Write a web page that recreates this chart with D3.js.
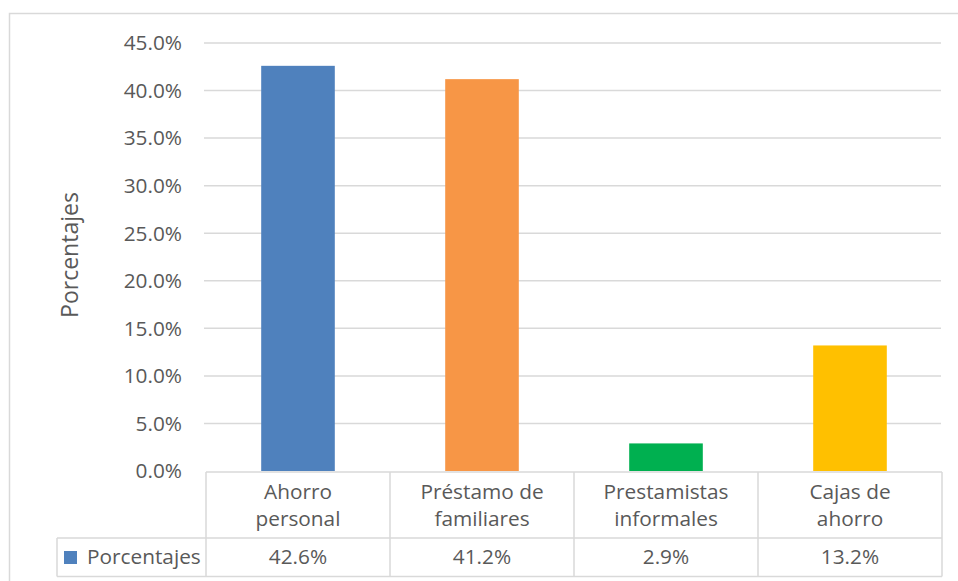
<!DOCTYPE html>
<meta charset="utf-8">
<script src="https://cdn.jsdelivr.net/npm/d3@7"></script>
<style>
body{margin:0; background:#fff;}
text{font-family:"Open Sans", sans-serif; fill:#595959;}
</style>
<div id="vis"></div>
<script>

// Data
var categories = [["Ahorro", "personal"], ["Préstamo de", "familiares"], ["Prestamistas", "informales"], ["Cajas de", "ahorro"]];
var values = [0.426, 0.412, 0.029, 0.132];
var barColors = ["#4f81bd", "#f79646", "#00b050", "#ffc000"];
var yTicks = [0, 0.05, 0.10, 0.15, 0.20, 0.25, 0.30, 0.35, 0.40, 0.45];
var seriesName = "Porcentajes";

var w = 958, h = 581;
var plotLeft = 206, plotRight = 942, plotTop = 43, zero = 471;
var rowMid = 538, tableBottom = 576.5, legendLeft = 57;
var grid = "#d9d9d9";
var labelSize = "20.8px";

var svg = d3.select("#vis").append("svg")
    .attr("width", w)
    .attr("height", h);

// outer chart border (cropped on right/bottom)
svg.append("rect")
    .attr("x", 9.5).attr("y", 13.5)
    .attr("width", 960).attr("height", 580)
    .attr("fill", "none").attr("stroke", grid).attr("stroke-width", 1.5);

var x = d3.scaleBand()
    .domain(d3.range(categories.length))
    .range([plotLeft, plotRight])
    .padding(0);

var y = d3.scaleLinear()
    .domain([0, 0.45])
    .range([zero, plotTop]);

// gridlines
svg.append("g").selectAll("line")
    .data(yTicks.slice(1))
  .enter().append("line")
    .attr("x1", plotLeft - 2).attr("x2", plotRight - 1)
    .attr("y1", function(d) { return y(d); })
    .attr("y2", function(d) { return y(d); })
    .attr("stroke", grid).attr("stroke-width", 1.5);

// y tick labels
svg.append("g").selectAll("text")
    .data(yTicks)
  .enter().append("text")
    .attr("x", 182)
    .attr("y", function(d) { return y(d); })
    .attr("dy", "0.35em")
    .attr("text-anchor", "end")
    .style("font-size", labelSize)
    .text(function(d) { return d3.format(".1%")(d); });

// axis title
svg.append("text")
    .attr("transform", "translate(70," + 255 + ") rotate(-90)")
    .attr("text-anchor", "middle")
    .attr("dy", "0.35em")
    .style("font-size", "23px")
    .text(seriesName);

// bars
var barW = x.bandwidth() * 0.4;
svg.append("g").selectAll("rect")
    .data(values)
  .enter().append("rect")
    .attr("x", function(d, i) { return x(i) + (x.bandwidth() - barW) / 2; })
    .attr("y", function(d) { return y(d); })
    .attr("width", barW)
    .attr("height", function(d) { return zero - y(d); })
    .attr("fill", function(d, i) { return barColors[i]; });

// data table
var tbl = svg.append("g")
    .attr("stroke", grid).attr("stroke-width", 1.5);

tbl.append("line").attr("x1", plotLeft).attr("x2", plotRight).attr("y1", zero + 1).attr("y2", zero + 1);
tbl.append("line").attr("x1", legendLeft).attr("x2", plotRight).attr("y1", rowMid).attr("y2", rowMid);
tbl.append("line").attr("x1", legendLeft).attr("x2", plotRight).attr("y1", tableBottom).attr("y2", tableBottom);
tbl.append("line").attr("x1", legendLeft).attr("x2", legendLeft).attr("y1", rowMid).attr("y2", tableBottom);
tbl.selectAll(".vline")
    .data(d3.range(categories.length + 1))
  .enter().append("line")
    .attr("x1", function(i) { return plotLeft + i * x.step(); })
    .attr("x2", function(i) { return plotLeft + i * x.step(); })
    .attr("y1", zero + 1).attr("y2", tableBottom);

// category labels
categories.forEach(function(c, i) {
  svg.append("g").selectAll("text")
      .data(c)
    .enter().append("text")
      .attr("x", x(i) + x.bandwidth() / 2)
      .attr("y", function(d, j) { return 492 + j * 27; })
      .attr("dy", "0.35em")
      .attr("text-anchor", "middle")
      .style("font-size", labelSize)
      .text(function(d) { return d; });
});

// values row
svg.append("g").selectAll("text")
    .data(values)
  .enter().append("text")
    .attr("x", function(d, i) { return x(i) + x.bandwidth() / 2; })
    .attr("y", 557)
    .attr("dy", "0.35em")
    .attr("text-anchor", "middle")
    .style("font-size", labelSize)
    .text(function(d) { return d3.format(".1%")(d); });

// legend key
svg.append("rect")
    .attr("x", 64).attr("y", 551)
    .attr("width", 13).attr("height", 13)
    .attr("fill", barColors[0]);
svg.append("text")
    .attr("x", 87).attr("y", 557)
    .attr("dy", "0.35em")
    .style("font-size", labelSize)
    .text(seriesName);

</script>
